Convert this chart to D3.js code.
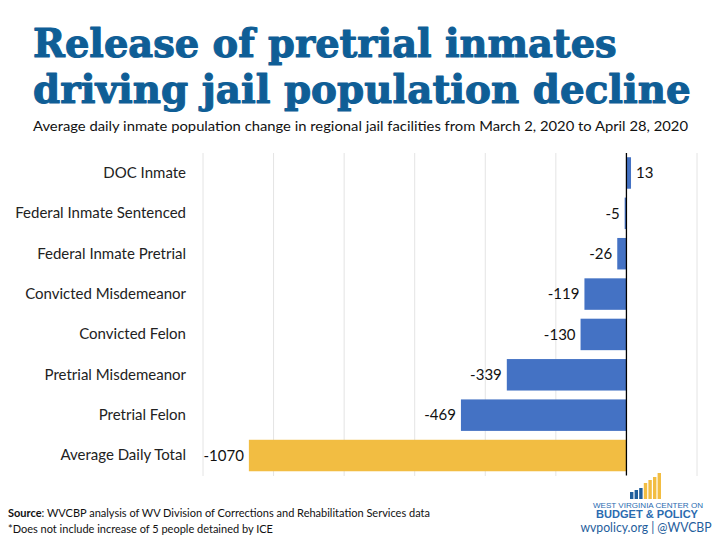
<!DOCTYPE html>
<html>
<head>
<meta charset="utf-8">
<script src="https://cdn.jsdelivr.net/npm/d3@7"></script>
<style>
  html, body { margin: 0; padding: 0; background: #fff; }
  svg { display: block; }
</style>
</head>
<body>
<svg id="chart" width="720" height="540"></svg>
<script>
const categories = [
  "DOC Inmate",
  "Federal Inmate Sentenced",
  "Federal Inmate Pretrial",
  "Convicted Misdemeanor",
  "Convicted Felon",
  "Pretrial Misdemeanor",
  "Pretrial Felon",
  "Average Daily Total"
];
const values = [13, -5, -26, -119, -130, -339, -469, -1070];
const highlight = [false, false, false, false, false, false, false, true];
const gridTicks = [-1200, -1000, -800, -600, -400, -200, 0, 200];

const titleLines = ["Release of pretrial inmates", "driving jail population decline"];
const subtitle = "Average daily inmate population change in regional jail facilities from March 2, 2020 to April 28, 2020";
const sourceText = ": WVCBP analysis of WV Division of Corrections and Rehabilitation Services data";
const noteText = "*Does not include increase of 5 people detained by ICE";

const svg = d3.select("#chart");
const blue = "#4472C4", gold = "#F2BD42", titleBlue = "#0F5E96";

const x = d3.scaleLinear().domain([-1200, 200]).range([203, 697]);
const y = d3.scaleBand().domain(categories).range([153, 475.5]).paddingInner(0.22).paddingOuter(0.105);

// Title (scaled horizontally to the reference widths)
const titleTargets = [584, 658];
const titleBase = [57, 103];
titleLines.forEach((t, i) => {
  const g = svg.append("g");
  const txt = g.append("text")
    .attr("x", 0).attr("y", 0)
    .attr("font-family", "DejaVu Serif")
    .attr("font-weight", "bold")
    .attr("font-size", 39)
    .attr("fill", titleBlue)
    .attr("stroke", titleBlue)
    .attr("stroke-width", 1.1)
    .attr("stroke-linejoin", "round")
    .text(t);
  const w = txt.node().getComputedTextLength();
  g.attr("transform", `translate(33,${titleBase[i]}) scale(${titleTargets[i] / w},1)`);
});

svg.append("text")
  .attr("x", 33).attr("y", 131)
  .attr("textLength", 655).attr("lengthAdjust", "spacingAndGlyphs")
  .attr("font-family", "Lato").attr("font-size", 14).attr("fill", "#111")
  .text(subtitle);

// Gridlines
svg.append("g").selectAll("line").data(gridTicks.filter(d => d !== 0)).join("line")
  .attr("x1", d => x(d)).attr("x2", d => x(d))
  .attr("y1", 153).attr("y2", 476)
  .attr("stroke", "#e4e4e4").attr("stroke-width", 1);

// Bars
svg.append("g").selectAll("rect").data(values).join("rect")
  .attr("x", d => x(Math.min(0, d)))
  .attr("width", d => Math.abs(x(d) - x(0)))
  .attr("y", (d, i) => y(categories[i]))
  .attr("height", y.bandwidth())
  .attr("fill", (d, i) => highlight[i] ? gold : blue);

// Zero line
svg.append("line")
  .attr("x1", x(0)).attr("x2", x(0)).attr("y1", 153).attr("y2", 475.5)
  .attr("stroke", "#000").attr("stroke-width", 1.3);

// Category labels
const yAxis = d3.axisLeft(y).tickSize(0).tickPadding(0);
const ag = svg.append("g").attr("transform", "translate(186,0)").call(yAxis);
ag.select(".domain").remove();
ag.selectAll("text").attr("font-family", "Lato").attr("font-size", 15).attr("fill", "#222");

// Value labels
svg.append("g").selectAll("text").data(values).join("text")
  .attr("x", d => d >= 0 ? x(d) + 5 : x(d) - 5)
  .attr("y", (d, i) => y(categories[i]) + y.bandwidth() / 2)
  .attr("dy", "0.35em")
  .attr("text-anchor", d => d >= 0 ? "start" : "end")
  .attr("font-family", "Lato").attr("font-size", 15).attr("fill", "#111")
  .text(d => String(d));

// Footer
const src = svg.append("text").attr("x", 8).attr("y", 517)
  .attr("font-family", "Lato").attr("font-size", 11).attr("fill", "#111");
src.append("tspan").attr("font-weight", "bold").text("Source");
src.append("tspan").text(sourceText);
svg.append("text").attr("x", 8).attr("y", 533)
  .attr("font-family", "Lato").attr("font-size", 11).attr("fill", "#111")
  .text(noteText);

// Logo
const logoBars = [
  {h: 7, c: "#1F5E9C"}, {h: 9, c: "#1F5E9C"}, {h: 11, c: "#1F5E9C"},
  {h: 16, c: gold}, {h: 19, c: gold}, {h: 22, c: gold}, {h: 26, c: gold}
];
svg.append("g").selectAll("rect").data(logoBars).join("rect")
  .attr("x", (d, i) => 630 + i * 4.6)
  .attr("y", d => 499 - d.h)
  .attr("width", 3.4)
  .attr("height", d => d.h)
  .attr("fill", d => d.c);
svg.append("text").attr("x", 648).attr("y", 507.5).attr("text-anchor", "middle")
  .attr("textLength", 110).attr("lengthAdjust", "spacingAndGlyphs")
  .attr("font-family", "Liberation Sans").attr("font-size", 7).attr("fill", "#2A6BB0")
  .text("WEST VIRGINIA CENTER ON");
svg.append("text").attr("x", 647).attr("y", 518).attr("text-anchor", "middle")
  .attr("textLength", 102).attr("lengthAdjust", "spacingAndGlyphs")
  .attr("font-family", "Liberation Sans").attr("font-weight", "bold").attr("font-size", 11.5).attr("fill", "#2A6BB0")
  .text("BUDGET & POLICY");
svg.append("text").attr("x", 646).attr("y", 532).attr("text-anchor", "middle")
  .attr("textLength", 131).attr("lengthAdjust", "spacingAndGlyphs")
  .attr("font-family", "Lato").attr("font-size", 12.5).attr("fill", "#1F5E9C")
  .text("wvpolicy.org  |  @WVCBP");
</script>
</body>
</html>
